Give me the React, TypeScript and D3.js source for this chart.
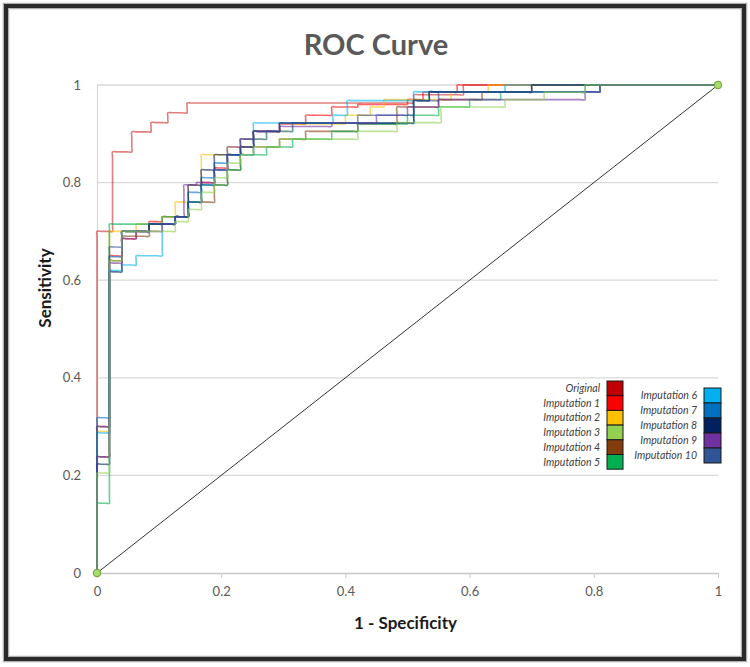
import * as d3 from "d3";
import { useEffect, useRef } from "react";

// tick values for both axes
const X_TICKS = [0, 0.2, 0.4, 0.6, 0.8, 1];
const Y_TICKS = [0, 0.2, 0.4, 0.6, 0.8, 1];

const SERIES_NAMES = [
  "Original",
  "Imputation 1",
  "Imputation 2",
  "Imputation 3",
  "Imputation 4",
  "Imputation 5",
  "Imputation 6",
  "Imputation 7",
  "Imputation 8",
  "Imputation 9",
  "Imputation 10",
];
const SERIES_COLORS = [
  "#c00000",
  "#ff0000",
  "#ffc000",
  "#92d050",
  "#843c0c",
  "#00b050",
  "#00b0f0",
  "#0070c0",
  "#002060",
  "#7030a0",
  "#2f5597",
];

// ROC steps: [1 - specificity, sensitivity] corners
const ORIGINAL = [[0, 0.7], [0.025, 0.863], [0.056, 0.904], [0.087, 0.923], [0.114, 0.943], [0.145, 0.963], [0.51, 0.98], [0.59, 1]];
const IMP_1 = [[0, 0.3], [0.02, 0.65], [0.04, 0.685], [0.063, 0.7], [0.084, 0.72], [0.105, 0.73], [0.147, 0.76], [0.168, 0.8], [0.189, 0.83], [0.21, 0.857], [0.231, 0.873], [0.252, 0.905], [0.294, 0.92], [0.336, 0.938], [0.378, 0.955], [0.42, 0.96], [0.5, 0.97], [0.525, 0.985], [0.58, 1]];
const IMP_2 = [[0, 0.29], [0.02, 0.7], [0.063, 0.715], [0.105, 0.73], [0.126, 0.76], [0.147, 0.795], [0.168, 0.857], [0.21, 0.873], [0.231, 0.889], [0.273, 0.905], [0.315, 0.92], [0.4, 0.938], [0.44, 0.955], [0.462, 0.97], [0.57, 0.985], [0.63, 1]];
const IMP_3 = [[0, 0.205], [0.02, 0.64], [0.04, 0.7], [0.126, 0.72], [0.147, 0.745], [0.168, 0.78], [0.189, 0.81], [0.21, 0.84], [0.231, 0.857], [0.252, 0.873], [0.294, 0.889], [0.42, 0.905], [0.483, 0.923], [0.554, 0.955], [0.657, 0.97], [0.72, 0.985], [0.786, 1]];
const IMP_4 = [[0, 0.238], [0.02, 0.64], [0.04, 0.69], [0.084, 0.715], [0.126, 0.73], [0.147, 0.76], [0.189, 0.795], [0.21, 0.826], [0.231, 0.857], [0.252, 0.873], [0.294, 0.889], [0.336, 0.905], [0.42, 0.92], [0.483, 0.955], [0.55, 0.97], [0.62, 0.985], [0.7, 1]];
const IMP_5 = [[0, 0.143], [0.02, 0.715], [0.105, 0.73], [0.147, 0.76], [0.168, 0.795], [0.21, 0.826], [0.231, 0.857], [0.273, 0.873], [0.315, 0.889], [0.378, 0.905], [0.42, 0.92], [0.5, 0.938], [0.55, 0.955], [0.6, 0.97], [0.65, 0.985], [0.786, 1]];
const IMP_6 = [[0, 0.287], [0.02, 0.62], [0.04, 0.631], [0.063, 0.65], [0.105, 0.715], [0.126, 0.73], [0.147, 0.76], [0.168, 0.795], [0.189, 0.826], [0.21, 0.857], [0.252, 0.922], [0.38, 0.938], [0.403, 0.968], [0.51, 0.986], [0.657, 1]];
const IMP_7 = [[0, 0.318], [0.02, 0.648], [0.04, 0.7], [0.084, 0.715], [0.126, 0.73], [0.147, 0.78], [0.168, 0.81], [0.189, 0.84], [0.21, 0.857], [0.231, 0.889], [0.273, 0.905], [0.315, 0.922], [0.51, 0.968], [0.535, 0.986], [0.81, 1]];
const IMP_8 = [[0, 0.223], [0.02, 0.617], [0.04, 0.7], [0.084, 0.715], [0.126, 0.73], [0.147, 0.795], [0.168, 0.826], [0.189, 0.857], [0.231, 0.873], [0.252, 0.905], [0.294, 0.922], [0.51, 0.968], [0.535, 0.986], [0.7, 1]];
const IMP_9 = [[0, 0.238], [0.02, 0.635], [0.04, 0.685], [0.063, 0.7], [0.105, 0.715], [0.126, 0.73], [0.14, 0.795], [0.16, 0.8], [0.189, 0.826], [0.21, 0.873], [0.231, 0.889], [0.252, 0.905], [0.294, 0.915], [0.378, 0.922], [0.45, 0.938], [0.5, 0.955], [0.55, 0.97], [0.786, 0.986], [0.81, 1]];
const IMP_10 = [[0, 0.3], [0.02, 0.668], [0.04, 0.7], [0.084, 0.715], [0.126, 0.73], [0.147, 0.76], [0.168, 0.795], [0.189, 0.826], [0.21, 0.857], [0.231, 0.873], [0.252, 0.905], [0.294, 0.922], [0.42, 0.938], [0.51, 0.968], [0.55, 0.986], [0.81, 1]];

const SERIES = [ORIGINAL, IMP_1, IMP_2, IMP_3, IMP_4, IMP_5, IMP_6, IMP_7, IMP_8, IMP_9, IMP_10];

// reference line endpoints
const DIAGONAL = [[0, 0], [1, 1]];

const WIDTH = 750;
const HEIGHT = 667;
const margin = { left: 97, right: 32, top: 85, bottom: 94 };

// turn corner list into a step path starting from (0,0)
const toSteps = (corners) => {
  const pts = [[0, 0]];
  let prevY = 0;
  corners.forEach(([x, y]) => {
    pts.push([x, prevY]);
    pts.push([x, y]);
    prevY = y;
  });
  pts.push([1, prevY]);
  return pts;
};

// in pixel space: add points next to each corner so the smoothing only rounds the corners
const roundCorners = (pts, r = 5) => {
  const out = [];
  for (let i = 0; i < pts.length; i++) {
    const p = pts[i];
    if (i > 0) {
      const q = pts[i - 1];
      const len = Math.hypot(p[0] - q[0], p[1] - q[1]);
      if (len < 0.01) continue;
      const d = Math.min(r, len / 3);
      const ux = (p[0] - q[0]) / len;
      const uy = (p[1] - q[1]) / len;
      out.push([q[0] + ux * d, q[1] + uy * d]);
      out.push([p[0] - ux * d, p[1] - uy * d]);
    }
    out.push(p);
  }
  return out;
};

const App = () => {
  const svgRef = useRef(null);

  useEffect(() => {
    const svgEl = d3.select(svgRef.current);
    svgEl.selectAll("*").remove();

    const width = WIDTH - margin.left - margin.right;
    const height = HEIGHT - margin.top - margin.bottom;

    const xScale = d3.scaleLinear().domain([0, 1]).range([0, width]);
    const yScale = d3.scaleLinear().domain([0, 1]).range([height, 0]);

    svgEl.append("rect").attr("width", WIDTH).attr("height", HEIGHT).attr("fill", "#ffffff");

    // outer frame
    svgEl
      .append("rect")
      .attr("x", 6)
      .attr("y", 6)
      .attr("width", WIDTH - 12)
      .attr("height", HEIGHT - 14)
      .attr("fill", "none")
      .attr("stroke", "#b0b0b0")
      .attr("stroke-width", 6.5);
    svgEl
      .append("rect")
      .attr("x", 6)
      .attr("y", 6)
      .attr("width", WIDTH - 12)
      .attr("height", HEIGHT - 14)
      .attr("fill", "none")
      .attr("stroke", "#2a2a2a")
      .attr("stroke-width", 4);

    // title
    svgEl
      .append("text")
      .attr("x", 376)
      .attr("y", 55)
      .attr("text-anchor", "middle")
      .attr("font-family", "Lato, sans-serif")
      .attr("font-weight", "bold")
      .attr("font-size", 29)
      .attr("fill", "#595959")
      .text("ROC Curve");

    const svg = svgEl.append("g").attr("transform", `translate(${margin.left},${margin.top})`);

    // horizontal grid
    svg
      .append("g")
      .selectAll("line")
      .data(Y_TICKS.filter((d) => d > 0))
      .enter()
      .append("line")
      .attr("x1", 0)
      .attr("x2", width)
      .attr("y1", (d) => yScale(d))
      .attr("y2", (d) => yScale(d))
      .attr("stroke", "#d9d9d9")
      .attr("stroke-width", 1.3);

    // Y axis
    const yAxis = d3
      .axisLeft(yScale)
      .tickValues(Y_TICKS)
      .tickSize(0)
      .tickPadding(16)
      .tickFormat(d3.format("~g"));
    const yAxisGroup = svg.append("g").call(yAxis);
    yAxisGroup.select(".domain").attr("stroke", "#d9d9d9").attr("stroke-width", 1.3);
    yAxisGroup
      .selectAll("text")
      .attr("fill", "#595959")
      .attr("font-family", "Lato, sans-serif")
      .attr("font-size", 13);

    // X axis
    const xAxis = d3
      .axisBottom(xScale)
      .tickValues(X_TICKS)
      .tickSize(5)
      .tickSizeOuter(0)
      .tickPadding(9)
      .tickFormat(d3.format("~g"));
    const xAxisGroup = svg.append("g").attr("transform", `translate(0, ${height})`).call(xAxis);
    xAxisGroup.select(".domain").attr("stroke", "#c8c8c8").attr("stroke-width", 1.3);
    xAxisGroup.selectAll("line").attr("stroke", "#c8c8c8");
    xAxisGroup
      .selectAll("text")
      .attr("fill", "#595959")
      .attr("font-family", "Lato, sans-serif")
      .attr("font-size", 13);

    // axis titles
    svg
      .append("text")
      .attr("x", width / 2 - 2)
      .attr("y", height + 56)
      .attr("text-anchor", "middle")
      .attr("font-family", "Lato, sans-serif")
      .attr("font-weight", "bold")
      .attr("font-size", 17)
      .attr("fill", "#1a1a1a")
      .text("1 - Specificity");
    svg
      .append("text")
      .attr("transform", `translate(-46, ${height / 2 - 41}) rotate(-90)`)
      .attr("text-anchor", "middle")
      .attr("font-family", "Lato, sans-serif")
      .attr("font-weight", "bold")
      .attr("font-size", 17)
      .attr("fill", "#1a1a1a")
      .text("Sensitivity");

    // diagonal reference
    svg
      .append("path")
      .attr("d", d3.line().x((d) => xScale(d[0])).y((d) => yScale(d[1]))(DIAGONAL))
      .attr("fill", "none")
      .attr("stroke", "#333333")
      .attr("stroke-width", 1);

    // ROC curves, smoothed corners like the spreadsheet
    const line = d3.line().curve(d3.curveCatmullRom.alpha(0.5));

    // light green ends up on top, as in the original
    const order = [0, 1, 2, 4, 5, 6, 7, 8, 9, 10, 3];
    order.forEach((i) => {
      const px = toSteps(SERIES[i]).map(([a, b]) => [xScale(a), yScale(b)]);
      svg
        .append("path")
        .attr("d", line(roundCorners(px)))
        .attr("fill", "none")
        .attr("stroke", SERIES_COLORS[i])
        .attr("stroke-width", 1.6)
        .attr("stroke-opacity", i === 0 ? 0.5 : 0.6);
    });

    // end markers
    svg
      .selectAll(".marker")
      .data(DIAGONAL)
      .enter()
      .append("circle")
      .attr("cx", (d) => xScale(d[0]))
      .attr("cy", (d) => yScale(d[1]))
      .attr("r", 3.8)
      .attr("fill", "#a9dc6a")
      .attr("stroke", "#6f9e3a")
      .attr("stroke-width", 1);

    // legend
    const legend = svgEl.append("g");
    legend.append("rect").attr("x", 537).attr("y", 379).attr("width", 186).attr("height", 95).attr("fill", "#ffffff");

    const columns = [
      { idx: [0, 1, 2, 3, 4, 5], x: 607, y: 381, w: 16, h: 14.7, labelX: 600 },
      { idx: [6, 7, 8, 9, 10], x: 704, y: 388, w: 17, h: 15, labelX: 697 },
    ];
    columns.forEach((col) => {
      col.idx.forEach((s, k) => {
        legend
          .append("rect")
          .attr("x", col.x)
          .attr("y", col.y + k * col.h)
          .attr("width", col.w)
          .attr("height", col.h)
          .attr("fill", SERIES_COLORS[s])
          .attr("stroke", "#1a1a1a")
          .attr("stroke-width", 1);
        legend
          .append("text")
          .attr("x", col.labelX)
          .attr("y", col.y + k * col.h + col.h / 2)
          .attr("dy", "0.35em")
          .attr("text-anchor", "end")
          .attr("font-family", "Lato, sans-serif")
          .attr("font-style", "italic")
          .attr("font-size", 10.5)
          .attr("fill", "#404040")
          .text(SERIES_NAMES[s]);
      });
    });
  }, []);

  return (
    <svg
      ref={svgRef}
      width={WIDTH}
      height={HEIGHT}
      style={{ position: "absolute", left: 0, top: 0 }}
    />
  );
};

export default App;
